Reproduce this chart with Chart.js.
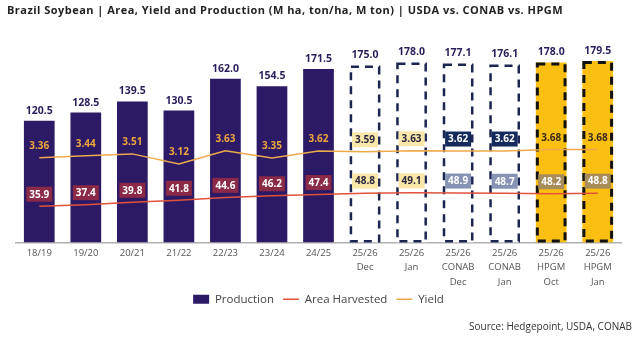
<!DOCTYPE html>
<html>
<head>
<meta charset="utf-8">
<script src="https://cdn.jsdelivr.net/npm/chart.js@4/dist/chart.umd.min.js"></script>
<style>
  body { margin: 0; background: #fff; }
  #wrap { position: relative; width: 636px; height: 341px; }
  #title { position: absolute; left: 7px; top: 2px; font: bold 11px "Open Sans", sans-serif; letter-spacing: 0.47px; color: #222; white-space: nowrap; }
  #source { position: absolute; right: 4px; top: 319px; font: 10px "Open Sans", sans-serif; color: #333; white-space: nowrap; }
</style>
</head>
<body>
<div id="wrap">
  <canvas id="myChart" width="636" height="341"></canvas>
  <div id="title">Brazil Soybean | Area, Yield and Production (M ha, ton/ha, M ton) | USDA vs. CONAB vs. HPGM</div>
  <div id="source">Source: Hedgepoint, USDA, CONAB</div>
</div>
<script>
const seasons = [['18/19'], ['19/20'], ['20/21'], ['21/22'], ['22/23'], ['23/24'], ['24/25'],
  ['25/26', 'Dec'], ['25/26', 'Jan'], ['25/26', 'CONAB', 'Dec'], ['25/26', 'CONAB', 'Jan'],
  ['25/26', 'HPGM', 'Oct'], ['25/26', 'HPGM', 'Jan']]
const production = [120.5, 128.5, 139.5, 130.5, 162.0, 154.5, 171.5, 175.0, 178.0, 177.1, 176.1, 178.0, 179.5]
const areaHarvested = [35.9, 37.4, 39.8, 41.8, 44.6, 46.2, 47.4, 48.8, 49.1, 48.9, 48.7, 48.2, 48.8]
const yieldTon = [3.36, 3.44, 3.51, 3.12, 3.63, 3.35, 3.62, 3.59, 3.63, 3.62, 3.62, 3.68, 3.68]
// which source each column belongs to
const source = ['hist', 'hist', 'hist', 'hist', 'hist', 'hist', 'hist', 'usda', 'usda', 'conab', 'conab', 'hpgm', 'hpgm']

const navy = '#2c1a67'
const gold = '#fbbf12'
const barFill = source.map(s => s == 'hist' ? navy : (s == 'hpgm' ? gold : '#ffffff'))

const yieldStyle = {
  hist: { bg: null, color: '#eea63c' },
  usda: { bg: '#f8e7a8', color: '#2a2540' },
  conab: { bg: '#142a5c', color: '#ffffff' },
  hpgm: { bg: null, color: '#3a2a1a' }
}
const areaStyle = {
  hist: { bg: '#8b2a46', color: '#ffffff' },
  usda: { bg: '#f8e7a8', color: '#2a2540' },
  conab: { bg: '#8793b5', color: '#ffffff' },
  hpgm: { bg: '#a88d5a', color: '#ffffff' }
}

function drawTag(ctx, text, x, y, style) {
  const w = ctx.measureText(text).width + 6
  const h = 15
  if (style.bg) {
    ctx.fillStyle = style.bg
    ctx.fillRect(x - w / 2, y - h / 2, w, h)
  }
  ctx.fillStyle = style.color
  ctx.fillText(text, x, y + 0.5)
}

const forecastOutline = {
  id: 'forecastOutline',
  afterDatasetDraw(chart, args) {
    if (args.index != 0) return
    const ctx = chart.ctx
    ctx.save()
    args.meta.data.forEach((bar, i) => {
      if (source[i] == 'hist') return
      const lw = source[i] == 'hpgm' ? 3 : 2.5
      ctx.lineWidth = lw
      ctx.strokeStyle = source[i] == 'hpgm' ? '#111111' : '#1b2550'
      ctx.setLineDash([8, 6])
      ctx.strokeRect(bar.x - bar.width / 2 + lw / 2, bar.y + lw / 2, bar.width - lw, bar.base - bar.y - lw)
    })
    ctx.restore()
  }
}

const valueLabels = {
  id: 'valueLabels',
  afterDatasetsDraw(chart) {
    const ctx = chart.ctx
    const bars = chart.getDatasetMeta(0).data
    const areaPts = chart.getDatasetMeta(1).data
    const yieldPts = chart.getDatasetMeta(2).data
    ctx.save()
    ctx.textAlign = 'center'
    ctx.textBaseline = 'middle'
    ctx.font = 'bold 10.5px "Open Sans"'
    bars.forEach((bar, i) => {
      ctx.fillStyle = '#2b1d5c'
      ctx.fillText(production[i].toFixed(1), bar.x, bar.y - 10)
    })
    ctx.font = 'bold 10px "Open Sans"'
    yieldPts.forEach((pt, i) => {
      drawTag(ctx, yieldTon[i].toFixed(2), pt.x, pt.y - 12, yieldStyle[source[i]])
    })
    areaPts.forEach((pt, i) => {
      drawTag(ctx, areaHarvested[i].toFixed(1), pt.x, pt.y - 12, areaStyle[source[i]])
    })
    ctx.restore()
  }
}

// pull the legend a little closer to the tick labels
const legendNudge = {
  id: 'legendNudge',
  beforeDraw(chart) {
    if (chart.legend) {
      chart.legend.top -= 6
      chart.legend.bottom -= 6
    }
  },
  afterDraw(chart) {
    if (chart.legend) {
      chart.legend.top += 6
      chart.legend.bottom += 6
    }
  }
}

new Chart('myChart', {
  data: {
    labels: seasons,
    datasets: [{
      type: 'bar',
      label: 'Production',
      data: production,
      backgroundColor: barFill,
      borderWidth: 0,
      barPercentage: 0.66,
      categoryPercentage: 1,
      yAxisID: 'y',
      order: 2
    }, {
      type: 'line',
      label: 'Area Harvested',
      data: areaHarvested,
      borderColor: '#e0533a',
      backgroundColor: '#e0533a',
      borderWidth: 1.5,
      pointRadius: 0,
      tension: 0,
      yAxisID: 'y',
      order: 1
    }, {
      type: 'line',
      label: 'Yield',
      data: yieldTon,
      borderColor: '#eea94a',
      backgroundColor: '#eea94a',
      borderWidth: 1.5,
      pointRadius: 0,
      tension: 0,
      yAxisID: 'y2',
      order: 1
    }]
  },
  options: {
    responsive: false,
    animation: false,
    layout: { padding: { top: 20, left: 16, right: 15, bottom: 20 } },
    scales: {
      x: {
        grid: { display: false, drawTicks: false },
        border: { display: true, color: '#b0b0b0', width: 1.5 },
        ticks: { color: '#555', font: { family: 'Open Sans', size: 9.5, lineHeight: 1.55 }, padding: 3, maxRotation: 0, autoSkip: false },
        afterFit: scale => { scale.height = 48 }
      },
      y: { display: false, min: 0, max: 220 },
      y2: { display: false, min: 0.0965, max: 8.668 }
    },
    plugins: {
      legend: {
        position: 'bottom',
        labels: {
          color: '#444',
          font: { family: 'Open Sans', size: 11.5 },
          usePointStyle: true,
          pointStyleWidth: 16,
          boxHeight: 9,
          padding: 9,
          sort: (a, b) => a.datasetIndex - b.datasetIndex,
          generateLabels: chart => chart.data.datasets.map((ds, i) => ({
            text: ds.label,
            datasetIndex: i,
            fillStyle: i == 0 ? navy : ds.borderColor,
            strokeStyle: i == 0 ? navy : ds.borderColor,
            lineWidth: i == 0 ? 0 : 1.5,
            pointStyle: i == 0 ? 'rect' : 'line',
            fontColor: '#444'
          }))
        }
      },
      tooltip: { enabled: false }
    }
  },
  plugins: [forecastOutline, valueLabels, legendNudge]
})
</script>
</body>
</html>
